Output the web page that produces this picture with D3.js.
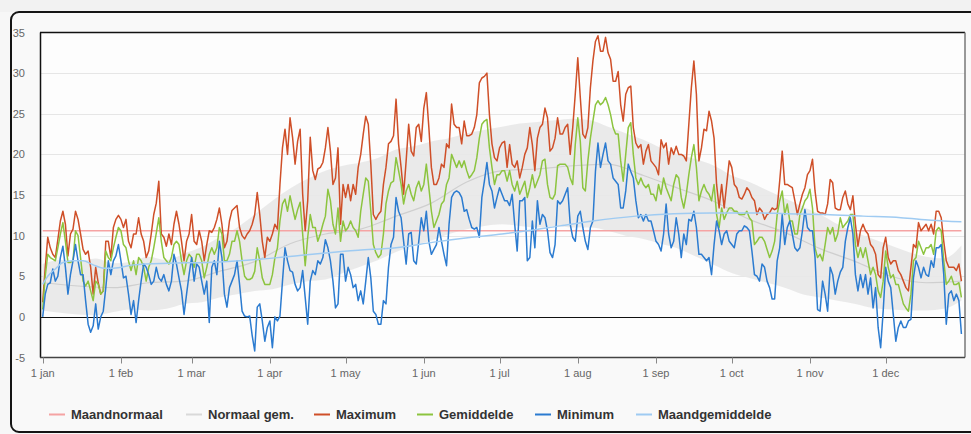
<!DOCTYPE html>
<html><head><meta charset="utf-8">
<script src="https://cdn.jsdelivr.net/npm/d3@7/dist/d3.min.js"></script>
<style>
html,body{margin:0;padding:0;background:#f7f7f7;}
svg{display:block;font-family:"Liberation Sans",Arial,Helvetica,sans-serif;}
</style></head><body>
<svg id="chart" width="971" height="434"></svg>
<script>
// ---------- DATA ----------
const monthTickDays = [0,31,59,90,120,151,181,212,243,273,304,334];
const monthTickLabels = ["1 jan","1 feb","1 mar","1 apr","1 may","1 jun","1 jul","1 aug","1 sep","1 oct","1 nov","1 dec"];
const yTicks = [-5,0,5,10,15,20,25,30,35];

const maxT = [
1.8,6.0,9.8,8.5,7.7,7.3,9.5,11.8,13.0,11.4,
7.5,10.2,10.8,13.0,12.0,10.2,8.3,7.7,8.1,6.1,
2.8,6.1,4.2,2.8,3.2,9.3,9.3,7.3,11.0,12.0,
12.5,12.0,11.0,12.0,9.3,8.5,10.2,10.2,12.2,10.2,
9.3,7.3,8.1,10.2,12.6,14.0,16.7,10.2,9.8,8.7,
10.2,8.9,11.4,13.0,11.4,9.3,6.9,9.3,10.2,12.6,
9.3,8.9,10.6,9.3,6.9,8.9,10.6,10.4,11.0,12.0,
13.4,11.4,8.5,9.3,11.8,13.1,13.4,13.7,11.0,10.0,
9.6,10.2,10.6,11.4,12.6,15.3,12.6,9.3,7.3,9.8,
9.3,10.2,11.4,10.8,16.3,20.8,23.1,20.0,24.5,22.1,
18.8,21.6,23.1,15.1,10.6,14.3,22.1,18.0,16.9,18.2,
18.4,19.0,20.8,23.3,20.4,16.3,17.1,20.8,11.4,16.3,
14.7,16.3,14.3,16.3,15.1,18.4,20.0,22.5,24.7,23.7,
18.8,12.6,12.0,12.6,13.0,16.3,18.4,21.3,21.6,22.3,
26.8,21.3,18.4,15.1,19.2,23.7,20.4,19.8,23.3,23.7,
21.6,25.7,27.6,23.3,18.4,16.3,16.3,17.1,18.8,18.4,
21.3,20.8,26.2,23.7,23.3,23.3,21.3,24.1,22.3,22.3,
22.5,23.3,24.9,28.8,29.4,29.6,30.0,24.9,21.3,19.6,
19.2,20.8,21.4,21.6,
18.4,21.2,18.8,18.4,19.2,17.1,18.4,20.0,20.8,23.3,
21.2,18.0,22.0,23.3,23.7,25.7,24.5,20.4,20.8,22.0,
24.5,22.5,22.5,23.3,23.7,20.0,23.3,27.4,31.9,27.0,
22.5,22.0,23.3,28.2,31.5,33.9,34.6,32.7,32.7,34.4,
32.5,31.7,29.0,29.0,30.2,26.1,24.1,27.4,28.2,28.4,
23.3,21.4,20.8,21.2,18.8,20.4,21.2,19.2,18.8,18.4,
17.5,21.8,20.8,21.4,18.8,20.8,20.0,21.0,20.0,20.0,
19.8,19.2,23.7,28.2,31.5,27.4,19.2,20.8,23.1,22.9,
25.3,24.1,22.0,16.3,13.4,16.3,13.4,16.3,19.2,18.4,
16.3,15.9,14.7,14.5,15.1,15.9,15.5,14.7,14.3,12.6,
13.4,13.0,12.0,12.6,12.8,13.4,13.2,13.4,16.7,20.4,
16.3,16.3,16.1,15.9,14.3,12.6,13.9,15.1,15.9,17.5,
18.0,19.4,15.5,13.0,12.8,12.8,12.6,13.9,16.9,16.5,
13.4,13.2,13.2,14.7,15.5,13.9,13.2,14.9,11.4,8.7,
10.6,11.4,10.6,10.2,8.9,8.5,7.7,5.2,4.8,8.5,
9.8,7.3,6.5,6.9,6.9,5.7,5.2,4.4,3.6,3.2,
6.1,8.9,8.5,11.6,10.6,11.0,11.4,10.6,11.4,10.2,
13.0,13.0,12.2,9.3,6.9,6.1,6.1,6.1,5.7,6.5,
4.4];

const meanT = [
0.9,5.0,7.7,7.3,7.1,6.9,8.5,10.2,11.6,9.3,
6.7,6.7,6.9,10.6,10.0,7.3,4.4,3.8,4.4,3.2,
2.0,4.4,4.0,2.8,3.2,8.1,7.3,6.9,8.5,9.8,
11.0,10.6,8.9,8.5,6.9,5.7,6.9,5.2,7.3,6.9,
6.1,4.4,6.1,6.9,8.5,10.3,12.2,9.3,7.3,6.9,
6.5,7.3,8.9,9.3,8.9,6.9,5.2,6.9,7.7,7.3,
6.1,7.7,7.7,6.9,4.8,6.1,7.7,8.5,7.7,8.5,
11.0,10.2,6.9,6.9,7.7,9.3,9.3,10.6,9.3,6.9,
5.0,4.6,4.6,4.8,5.6,8.5,6.9,4.8,4.0,4.0,
4.0,5.2,7.3,8.5,11.8,13.9,14.5,13.0,14.9,13.4,
12.0,13.2,14.1,10.2,6.3,9.8,12.6,11.0,11.0,9.3,
10.2,11.4,12.4,15.7,14.3,11.4,10.2,13.4,9.3,11.8,
10.6,11.0,11.8,11.0,10.6,9.8,13.0,15.1,17.1,16.7,
13.0,8.9,7.9,7.3,7.7,10.2,13.9,15.5,16.5,16.7,
19.6,18.0,16.3,13.9,15.5,16.3,15.1,14.3,15.9,16.7,
15.5,16.3,18.8,15.9,13.0,11.0,11.8,12.6,13.9,14.3,
16.3,17.1,20.0,19.2,18.4,19.2,18.4,19.2,18.0,17.1,
17.5,18.0,19.6,22.0,23.7,24.1,24.3,20.8,18.4,16.3,
17.5,17.5,18.0,18.0,
16.7,18.0,16.3,15.5,16.7,15.1,15.9,16.7,14.7,15.9,
17.5,15.9,16.7,17.5,19.2,19.4,16.3,14.7,14.5,15.1,
18.6,18.8,18.8,18.8,18.4,17.1,16.3,21.2,24.5,21.6,
15.9,15.5,19.2,22.0,24.1,26.1,26.6,26.1,26.4,27.0,
26.1,24.9,23.3,22.5,22.5,19.2,16.7,20.0,23.3,23.9,
20.0,17.1,16.3,17.1,16.3,15.9,16.3,15.1,15.1,14.3,
16.3,15.1,17.1,15.9,15.1,14.3,16.3,17.5,17.1,14.7,
13.4,15.1,17.5,19.6,21.2,18.4,14.3,15.5,16.3,15.5,
15.1,14.3,16.3,12.6,11.0,13.4,12.0,12.8,13.4,13.4,
13.0,13.0,12.6,12.6,12.6,13.0,12.2,11.8,8.9,9.3,
9.8,9.8,9.3,8.3,7.3,8.1,9.3,12.6,14.3,15.5,
12.6,13.9,11.8,11.8,10.2,10.2,12.6,13.4,14.3,14.7,
15.7,13.4,8.5,7.3,7.7,6.9,8.9,11.0,10.2,11.0,
9.3,10.2,12.2,11.0,11.4,11.8,12.6,12.6,8.9,7.3,
8.5,7.3,8.5,6.9,5.2,6.1,5.2,3.2,2.4,4.4,
8.1,6.1,4.8,5.2,4.0,4.0,2.8,1.6,1.1,0.7,
2.8,6.9,7.3,9.3,8.5,7.7,8.5,8.5,8.9,7.7,
10.6,11.0,10.6,6.9,4.0,4.4,5.0,4.0,4.0,4.2,
2.4];

const minT = [
0.0,2.8,4.0,4.2,5.9,4.4,5.0,7.3,8.7,6.1,
2.8,5.2,6.9,8.9,6.9,5.2,5.2,2.0,-0.9,-1.9,
-1.1,1.6,-1.5,0.0,0.7,3.6,6.9,5.2,6.9,7.5,
8.9,6.9,4.8,5.0,2.8,0.3,2.0,-0.7,2.0,4.4,
6.5,6.1,5.2,4.0,4.4,6.1,4.8,4.4,5.2,4.0,
3.2,4.4,7.7,6.5,4.8,3.2,0.3,2.8,5.2,7.3,
4.4,6.5,6.1,4.4,2.8,4.4,-0.7,6.1,6.9,5.2,
9.3,7.3,2.8,1.2,3.6,4.4,5.2,6.9,4.0,0.7,
0.1,0.0,0.1,-2.3,-4.2,1.2,1.6,-0.5,-3.0,-1.3,
-0.5,-3.8,0.0,-0.5,0.1,4.4,8.5,6.9,5.7,5.5,
4.0,3.2,3.6,5.7,2.4,-0.9,4.4,5.7,5.2,6.9,
6.5,7.3,9.5,8.5,6.9,4.4,1.1,1.6,7.7,7.7,
4.4,6.1,5.2,3.6,4.0,2.0,3.2,1.6,4.4,7.3,
4.8,0.7,0.3,-0.9,-0.9,2.0,1.6,6.1,8.9,9.8,
14.7,13.0,12.2,9.3,6.5,10.2,10.4,6.9,6.5,9.3,
12.2,10.6,13.0,9.3,7.7,8.3,8.9,11.0,9.3,7.7,
6.3,11.4,14.7,15.3,15.5,15.3,14.7,13.0,13.2,12.0,
11.0,10.8,11.0,9.8,14.7,16.7,19.0,16.3,15.5,13.4,
14.7,15.9,15.1,14.3,
14.3,13.7,15.1,11.4,8.1,14.3,14.3,14.7,6.9,7.3,
11.8,8.5,14.3,11.4,12.6,12.2,10.6,7.9,7.3,8.9,
14.3,13.9,14.3,15.1,15.9,11.4,9.8,9.3,12.4,13.0,
11.0,9.3,8.3,11.0,11.8,17.9,21.4,18.4,20.0,21.4,
19.2,18.8,17.1,16.7,16.3,13.4,13.4,15.5,18.8,17.9,
17.1,14.3,12.2,12.6,11.8,12.6,11.8,11.8,10.6,9.3,
8.9,8.1,10.2,13.9,10.2,8.5,9.3,12.2,10.2,7.3,
10.2,8.9,12.0,11.8,13.0,11.0,7.7,7.7,7.3,6.9,
7.3,5.2,8.9,11.8,10.6,8.9,10.2,10.6,9.3,8.9,
8.5,10.2,10.6,10.6,11.2,11.0,10.6,8.1,5.2,5.0,
4.4,6.5,6.1,4.4,3.6,2.2,2.2,6.9,8.5,12.6,
8.9,11.0,11.8,10.2,8.5,8.1,8.5,10.6,13.2,11.0,
10.6,10.6,7.3,0.9,0.7,4.4,2.8,0.7,6.1,5.2,
2.8,4.4,5.5,6.1,9.3,11.0,12.2,10.2,5.2,3.2,
5.2,3.6,5.2,2.8,4.8,1.1,3.6,-1.3,-3.8,0.7,
6.1,4.4,3.6,0.3,-3.0,-1.3,-0.5,-1.3,-1.3,-0.5,
-0.3,4.8,6.9,6.1,4.8,6.1,5.2,5.0,6.9,6.1,
8.5,8.5,8.9,5.2,-0.9,2.8,3.2,2.0,2.8,2.0,
-2.1];

// Normal band (lowest / highest normal) and normal mean, read at sample days
const normDays = [0,7,14,21,28,35,42,49,56,63,70,77,84,91,98,105,112,119,126,133,140,147,154,161,168,175,182,189,196,203,210,217,224,231,238,245,252,259,266,273,280,287,294,301,308,315,322,329,336,343,350,357,364];
const normLow  = [0.8,0.5,0.3,0.2,0.6,0.9,0.8,1.0,1.6,1.8,2.4,2.8,3.2,3.4,4.0,4.4,4.6,5.4,6.2,7.0,8.0,8.8,9.4,10.2,10.8,11.2,11.4,11.2,11.0,11.2,11.0,11.0,10.6,10.0,9.6,9.0,8.4,7.4,6.4,5.4,4.8,4.2,3.6,2.8,2.4,2.0,1.6,1.1,0.9,0.8,0.8,1.0,2.0];
const normHigh = [6.5,7.0,6.8,7.2,6.6,6.8,7.4,7.0,7.8,8.6,9.8,11.0,12.6,14.3,15.8,17.0,18.0,18.6,19.0,19.6,20.6,21.0,21.6,22.0,22.6,23.0,23.4,23.8,24.0,24.2,24.4,24.2,23.4,22.6,21.8,20.8,20.0,19.4,18.6,17.4,16.6,15.6,14.6,13.6,12.6,11.4,10.4,9.6,8.8,8.0,7.4,7.2,8.8];
const normMeanDays = [0,14,28,42,56,70,84,98,112,126,140,154,168,182,196,210,224,238,252,266,280,294,308,322,336,350,364];
const normMean     = [4.2,3.8,3.6,4.2,4.4,5.6,6.8,9.0,10.2,10.8,12.4,14.0,16.6,18.0,18.2,18.6,18.8,17.4,15.8,14.2,12.0,10.4,8.4,6.8,5.0,4.2,4.4];

// Monthly/annual normal (constant) and running average of the year so far
const maandNormaal = 10.6;
const runDays = [0,2,5,8,12,16,20,24,28,36,50,65,78,90,100,110,125,140,155,170,182,192,205,218,235,250,265,280,295,310,325,340,352,364];
const runAvg  = [4.0,5.0,5.9,6.7,6.9,6.9,6.4,6.0,6.0,6.4,6.6,6.7,6.9,7.2,7.5,7.8,8.2,8.5,9.2,9.8,10.2,10.6,11.2,11.8,12.4,12.7,12.8,12.8,12.7,12.6,12.4,12.2,11.9,11.7];

const legendItems = [
  {label:"Maandnormaal", color:"#f5a3a3"},
  {label:"Normaal gem.", color:"#d9d9d9"},
  {label:"Maximum", color:"#cf4f28"},
  {label:"Gemiddelde", color:"#8cc43f"},
  {label:"Minimum", color:"#2b7bd0"},
  {label:"Maandgemiddelde", color:"#9fcbf2"}
];

// ---------- LAYOUT ----------
const svg = d3.select("#chart");
const W = 971, H = 434;
const plot = {left:40, right:965, top:32.5, bottom:357.5};

const x = d3.scaleLinear().domain([0,334]).range([42.7,885.7]);
const y = d3.scaleLinear().domain([-5,35]).range([plot.bottom, plot.top]);

// outer frame
svg.append("rect").attr("x",0).attr("y",0).attr("width",W).attr("height",12).attr("fill","#f2f2f2");
svg.append("rect").attr("x",11).attr("y",12).attr("width",W+20).attr("height",420)
  .attr("rx",8).attr("fill","#f9f9f9").attr("stroke","#151515").attr("stroke-width",2);

// plot background
svg.append("rect").attr("x",plot.left).attr("y",plot.top).attr("width",plot.right-plot.left)
  .attr("height",plot.bottom-plot.top).attr("fill","#fdfdfd");

svg.append("defs").append("clipPath").attr("id","clip").append("rect")
  .attr("x",plot.left).attr("y",plot.top).attr("width",plot.right-plot.left).attr("height",plot.bottom-plot.top);

// gridlines
svg.append("g").selectAll("line").data(yTicks.filter(t=>t>-5 && t<35 && t!==0)).join("line")
  .attr("x1",plot.left).attr("x2",plot.right)
  .attr("y1",d=>Math.round(y(d))+0.5).attr("y2",d=>Math.round(y(d))+0.5)
  .attr("stroke","#e6e6e6").attr("stroke-width",1);

// y labels
svg.append("g").selectAll("text").data(yTicks).join("text")
  .attr("x",25).attr("y",d=>y(d)+4).attr("text-anchor","end")
  .attr("font-size",11).attr("fill","#666").text(d=>d);

const g = svg.append("g").attr("clip-path","url(#clip)");

// normal band
const bandData = normDays.map((d,i)=>({d, lo:normLow[i], hi:normHigh[i]}));
g.append("path").datum(bandData)
  .attr("d", d3.area().x(p=>x(p.d)).y0(p=>y(p.lo)).y1(p=>y(p.hi)).curve(d3.curveMonotoneX))
  .attr("fill","#e8e8e8").attr("opacity",0.9);

// zero line
g.append("line").attr("x1",plot.left).attr("x2",plot.right)
  .attr("y1",Math.round(y(0))+0.5).attr("y2",Math.round(y(0))+0.5)
  .attr("stroke","#111").attr("stroke-width",1.2);

const line = d3.line().x(p=>x(p[0])).y(p=>y(p[1]));

// maandnormaal
g.append("path").datum([[0,maandNormaal],[364,maandNormaal]]).attr("d",line)
  .attr("fill","none").attr("stroke",legendItems[0].color).attr("stroke-width",1.5);

// normaal gem.
g.append("path").datum(normMeanDays.map((d,i)=>[d,normMean[i]]))
  .attr("d", d3.line().x(p=>x(p[0])).y(p=>y(p[1])).curve(d3.curveMonotoneX))
  .attr("fill","none").attr("stroke","#cfcfcf").attr("stroke-width",1.2);

const series = [
  {vals:maxT, color:legendItems[2].color},
  {vals:meanT, color:legendItems[3].color},
  {vals:minT, color:legendItems[4].color}
];
series.forEach(s=>{
  g.append("path").datum(s.vals.map((v,i)=>[i,v])).attr("d",line)
    .attr("fill","none").attr("stroke",s.color).attr("stroke-width",1.5)
    .attr("stroke-linejoin","round");
});

// maandgemiddelde
g.append("path").datum(runDays.map((d,i)=>[d,runAvg[i]]))
  .attr("d", d3.line().x(p=>x(p[0])).y(p=>y(p[1])).curve(d3.curveMonotoneX))
  .attr("fill","none").attr("stroke",legendItems[5].color).attr("stroke-width",1.5);

// plot borders
svg.append("line").attr("x1",plot.left).attr("x2",plot.right).attr("y1",plot.top).attr("y2",plot.top)
  .attr("stroke","#111").attr("stroke-width",1.5);
svg.append("line").attr("x1",plot.left+0.5).attr("x2",plot.left+0.5).attr("y1",plot.top).attr("y2",plot.bottom)
  .attr("stroke","#111").attr("stroke-width",1.5);
svg.append("line").attr("x1",plot.right).attr("x2",plot.right).attr("y1",plot.top).attr("y2",plot.bottom)
  .attr("stroke","#777").attr("stroke-width",1.5);
svg.append("line").attr("x1",plot.left).attr("x2",plot.right).attr("y1",plot.bottom).attr("y2",plot.bottom)
  .attr("stroke","#444").attr("stroke-width",1.5);

// x axis ticks and labels
const xa = svg.append("g");
xa.selectAll("line").data(monthTickDays).join("line")
  .attr("x1",d=>Math.round(x(d))+0.5).attr("x2",d=>Math.round(x(d))+0.5)
  .attr("y1",plot.bottom).attr("y2",plot.bottom+6)
  .attr("stroke","#888").attr("stroke-width",1);
xa.selectAll("text").data(monthTickDays).join("text")
  .attr("x",d=>x(d)).attr("y",377).attr("text-anchor","middle")
  .attr("font-size",11).attr("fill","#666")
  .text((d,i)=>monthTickLabels[i]);

// legend
const legendX = [49,186,314,417,535,636];
const lg = svg.append("g");
legendItems.forEach((it,i)=>{
  const gx = legendX[i];
  lg.append("line").attr("x1",gx).attr("x2",gx+16).attr("y1",414.5).attr("y2",414.5)
    .attr("stroke",it.color).attr("stroke-width",2);
  lg.append("text").attr("x",gx+22).attr("y",419).attr("font-size",13).attr("font-weight","bold")
    .attr("fill","#333").text(it.label);
});
</script>
</body></html>
